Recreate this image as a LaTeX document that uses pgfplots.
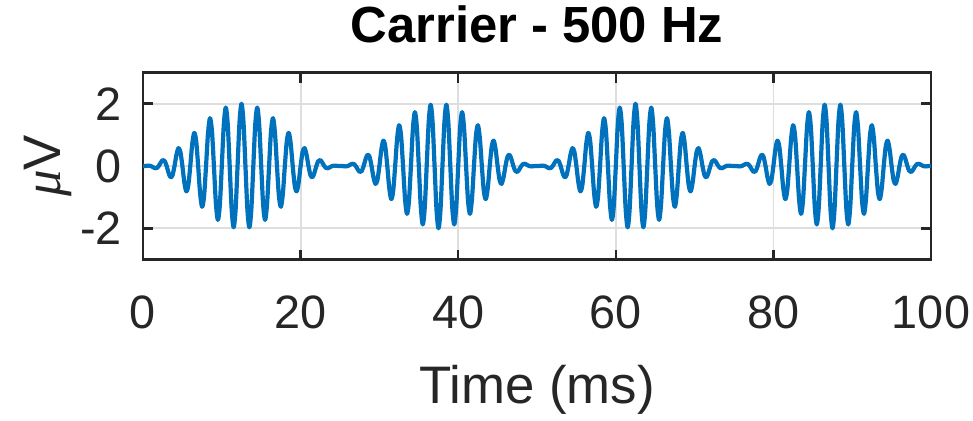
\documentclass[border=0pt]{standalone}
\usepackage{fontspec}
\setmainfont{Liberation Sans}
\newfontfamily\muf{Liberation Serif}
\usepackage{pgfplots}
\pgfplotsset{compat=1.18}
\definecolor{mblue}{HTML}{0072BD}
\definecolor{axgray}{HTML}{262626}
\begin{document}
\begin{tikzpicture}[x=1bp,y=1bp]
\path[use as bounding box] (0,0) rectangle (973,420);
\begin{axis}[
 at={(143bp,160.5bp)}, anchor=south west,
 scale only axis, width=788bp, height=187bp,
 xmin=0, xmax=100, ymin=-3, ymax=3,
 xtick={0,20,40,60,80,100}, ytick={-2,0,2},
 xticklabels={0,20,40,60,80,100}, yticklabels={-2,0,2},
 tick align=inside, xtick pos=both, ytick pos=both,
 major tick length=10bp,
 grid=major, major grid style={draw=black!13, line width=1.8bp},
 axis line style={draw=axgray, line width=2.5bp},
 tick style={draw=axgray, line width=2.5bp},
 tick label style={font=\fontsize{47}{47}\selectfont, text=axgray, inner sep=0pt},
 xticklabel style={anchor=base, yshift=-68.5bp},
 yticklabel style={anchor=east, xshift=-21bp},
 title={Carrier - 500 Hz},
 title style={at={(axis description cs:0.5,1.131)}, anchor=base, inner sep=0pt, font=\fontsize{51}{51}\selectfont\bfseries, text=black},
 xlabel={Time (ms)},
 xlabel style={at={(axis description cs:0.5,-0.7674)}, anchor=base, inner sep=0pt, font=\fontsize{53}{53}\selectfont, text=axgray},
 ylabel={{\muf\itshape μ}V},
 ylabel style={at={(axis description cs:-0.1053,0.5)}, anchor=base, inner sep=0pt, font=\fontsize{53}{53}\selectfont, text=axgray},
]
\addplot[mblue, line width=4.2bp, line join=round, line cap=round, smooth] table[row sep=\\] {
t v\\
0 0\\ 0.25 0.001\\ 0.5 0.008\\ 0.75 0.013\\ 1 0\\ 1.25 -0.035\\ 1.5 -0.070\\ 1.75 -0.067\\
2 0\\ 2.25 0.110\\ 2.5 0.191\\ 2.75 0.162\\ 3 0\\ 3.25 -0.223\\ 3.5 -0.363\\ 3.75 -0.291\\
4 0\\ 4.25 0.366\\ 4.5 0.574\\ 4.75 0.447\\ 5 0\\ 5.25 -0.531\\ 5.5 -0.813\\ 5.75 -0.618\\
6 0\\ 6.25 0.707\\ 6.5 1.063\\ 6.75 0.796\\ 7 0\\ 7.25 -0.883\\ 7.5 -1.309\\ 7.75 -0.967\\
8 0\\ 8.25 1.048\\ 8.5 1.536\\ 8.75 1.123\\ 9 0\\ 9.25 -1.191\\ 9.5 -1.729\\ 9.75 -1.252\\
10 0\\ 10.25 1.304\\ 10.5 1.876\\ 10.75 1.347\\ 11 0\\ 11.25 -1.380\\ 11.5 -1.969\\ 11.75 -1.402\\
12 0\\ 12.25 1.413\\ 12.5 2.000\\ 12.75 1.413\\ 13 0\\ 13.25 -1.402\\ 13.5 -1.969\\ 13.75 -1.380\\
14 0\\ 14.25 1.347\\ 14.5 1.876\\ 14.75 1.304\\ 15 0\\ 15.25 -1.252\\ 15.5 -1.729\\ 15.75 -1.191\\
16 0\\ 16.25 1.123\\ 16.5 1.536\\ 16.75 1.048\\ 17 0\\ 17.25 -0.967\\ 17.5 -1.309\\ 17.75 -0.883\\
18 0\\ 18.25 0.796\\ 18.5 1.063\\ 18.75 0.707\\ 19 0\\ 19.25 -0.618\\ 19.5 -0.813\\ 19.75 -0.531\\
20 0\\ 20.25 0.447\\ 20.5 0.574\\ 20.75 0.366\\ 21 0\\ 21.25 -0.291\\ 21.5 -0.363\\ 21.75 -0.223\\
22 0\\ 22.25 0.162\\ 22.5 0.191\\ 22.75 0.110\\ 23 0\\ 23.25 -0.067\\ 23.5 -0.070\\ 23.75 -0.035\\
24 0\\ 24.25 0.013\\ 24.5 0.008\\ 24.75 0.001\\
25 0\\ 25.25 -0.001\\ 25.5 -0.008\\ 25.75 -0.013\\ 26 0\\ 26.25 0.035\\ 26.5 0.070\\ 26.75 0.067\\
27 0\\ 27.25 -0.110\\ 27.5 -0.191\\ 27.75 -0.162\\ 28 0\\ 28.25 0.223\\ 28.5 0.363\\ 28.75 0.291\\
29 0\\ 29.25 -0.366\\ 29.5 -0.574\\ 29.75 -0.447\\ 30 0\\ 30.25 0.531\\ 30.5 0.813\\ 30.75 0.618\\
31 0\\ 31.25 -0.707\\ 31.5 -1.063\\ 31.75 -0.796\\ 32 0\\ 32.25 0.883\\ 32.5 1.309\\ 32.75 0.967\\
33 0\\ 33.25 -1.048\\ 33.5 -1.536\\ 33.75 -1.123\\ 34 0\\ 34.25 1.191\\ 34.5 1.729\\ 34.75 1.252\\
35 0\\ 35.25 -1.304\\ 35.5 -1.876\\ 35.75 -1.347\\ 36 0\\ 36.25 1.380\\ 36.5 1.969\\ 36.75 1.402\\
37 0\\ 37.25 -1.413\\ 37.5 -2.000\\ 37.75 -1.413\\ 38 0\\ 38.25 1.402\\ 38.5 1.969\\ 38.75 1.380\\
39 0\\ 39.25 -1.347\\ 39.5 -1.876\\ 39.75 -1.304\\ 40 0\\ 40.25 1.252\\ 40.5 1.729\\ 40.75 1.191\\
41 0\\ 41.25 -1.123\\ 41.5 -1.536\\ 41.75 -1.048\\ 42 0\\ 42.25 0.967\\ 42.5 1.309\\ 42.75 0.883\\
43 0\\ 43.25 -0.796\\ 43.5 -1.063\\ 43.75 -0.707\\ 44 0\\ 44.25 0.618\\ 44.5 0.813\\ 44.75 0.531\\
45 0\\ 45.25 -0.447\\ 45.5 -0.574\\ 45.75 -0.366\\ 46 0\\ 46.25 0.291\\ 46.5 0.363\\ 46.75 0.223\\
47 0\\ 47.25 -0.162\\ 47.5 -0.191\\ 47.75 -0.110\\ 48 0\\ 48.25 0.067\\ 48.5 0.070\\ 48.75 0.035\\
49 0\\ 49.25 -0.013\\ 49.5 -0.008\\ 49.75 -0.001\\
50 0\\ 50.25 0.001\\ 50.5 0.008\\ 50.75 0.013\\ 51 0\\ 51.25 -0.035\\ 51.5 -0.070\\ 51.75 -0.067\\
52 0\\ 52.25 0.110\\ 52.5 0.191\\ 52.75 0.162\\ 53 0\\ 53.25 -0.223\\ 53.5 -0.363\\ 53.75 -0.291\\
54 0\\ 54.25 0.366\\ 54.5 0.574\\ 54.75 0.447\\ 55 0\\ 55.25 -0.531\\ 55.5 -0.813\\ 55.75 -0.618\\
56 0\\ 56.25 0.707\\ 56.5 1.063\\ 56.75 0.796\\ 57 0\\ 57.25 -0.883\\ 57.5 -1.309\\ 57.75 -0.967\\
58 0\\ 58.25 1.048\\ 58.5 1.536\\ 58.75 1.123\\ 59 0\\ 59.25 -1.191\\ 59.5 -1.729\\ 59.75 -1.252\\
60 0\\ 60.25 1.304\\ 60.5 1.876\\ 60.75 1.347\\ 61 0\\ 61.25 -1.380\\ 61.5 -1.969\\ 61.75 -1.402\\
62 0\\ 62.25 1.413\\ 62.5 2.000\\ 62.75 1.413\\ 63 0\\ 63.25 -1.402\\ 63.5 -1.969\\ 63.75 -1.380\\
64 0\\ 64.25 1.347\\ 64.5 1.876\\ 64.75 1.304\\ 65 0\\ 65.25 -1.252\\ 65.5 -1.729\\ 65.75 -1.191\\
66 0\\ 66.25 1.123\\ 66.5 1.536\\ 66.75 1.048\\ 67 0\\ 67.25 -0.967\\ 67.5 -1.309\\ 67.75 -0.883\\
68 0\\ 68.25 0.796\\ 68.5 1.063\\ 68.75 0.707\\ 69 0\\ 69.25 -0.618\\ 69.5 -0.813\\ 69.75 -0.531\\
70 0\\ 70.25 0.447\\ 70.5 0.574\\ 70.75 0.366\\ 71 0\\ 71.25 -0.291\\ 71.5 -0.363\\ 71.75 -0.223\\
72 0\\ 72.25 0.162\\ 72.5 0.191\\ 72.75 0.110\\ 73 0\\ 73.25 -0.067\\ 73.5 -0.070\\ 73.75 -0.035\\
74 0\\ 74.25 0.013\\ 74.5 0.008\\ 74.75 0.001\\
75 0\\ 75.25 -0.001\\ 75.5 -0.008\\ 75.75 -0.013\\ 76 0\\ 76.25 0.035\\ 76.5 0.070\\ 76.75 0.067\\
77 0\\ 77.25 -0.110\\ 77.5 -0.191\\ 77.75 -0.162\\ 78 0\\ 78.25 0.223\\ 78.5 0.363\\ 78.75 0.291\\
79 0\\ 79.25 -0.366\\ 79.5 -0.574\\ 79.75 -0.447\\ 80 0\\ 80.25 0.531\\ 80.5 0.813\\ 80.75 0.618\\
81 0\\ 81.25 -0.707\\ 81.5 -1.063\\ 81.75 -0.796\\ 82 0\\ 82.25 0.883\\ 82.5 1.309\\ 82.75 0.967\\
83 0\\ 83.25 -1.048\\ 83.5 -1.536\\ 83.75 -1.123\\ 84 0\\ 84.25 1.191\\ 84.5 1.729\\ 84.75 1.252\\
85 0\\ 85.25 -1.304\\ 85.5 -1.876\\ 85.75 -1.347\\ 86 0\\ 86.25 1.380\\ 86.5 1.969\\ 86.75 1.402\\
87 0\\ 87.25 -1.413\\ 87.5 -2.000\\ 87.75 -1.413\\ 88 0\\ 88.25 1.402\\ 88.5 1.969\\ 88.75 1.380\\
89 0\\ 89.25 -1.347\\ 89.5 -1.876\\ 89.75 -1.304\\ 90 0\\ 90.25 1.252\\ 90.5 1.729\\ 90.75 1.191\\
91 0\\ 91.25 -1.123\\ 91.5 -1.536\\ 91.75 -1.048\\ 92 0\\ 92.25 0.967\\ 92.5 1.309\\ 92.75 0.883\\
93 0\\ 93.25 -0.796\\ 93.5 -1.063\\ 93.75 -0.707\\ 94 0\\ 94.25 0.618\\ 94.5 0.813\\ 94.75 0.531\\
95 0\\ 95.25 -0.447\\ 95.5 -0.574\\ 95.75 -0.366\\ 96 0\\ 96.25 0.291\\ 96.5 0.363\\ 96.75 0.223\\
97 0\\ 97.25 -0.162\\ 97.5 -0.191\\ 97.75 -0.110\\ 98 0\\ 98.25 0.067\\ 98.5 0.070\\ 98.75 0.035\\
99 0\\ 99.25 -0.013\\ 99.5 -0.008\\ 99.75 -0.001\\ 100 0\\
};
\end{axis}
\end{tikzpicture}
\end{document}
